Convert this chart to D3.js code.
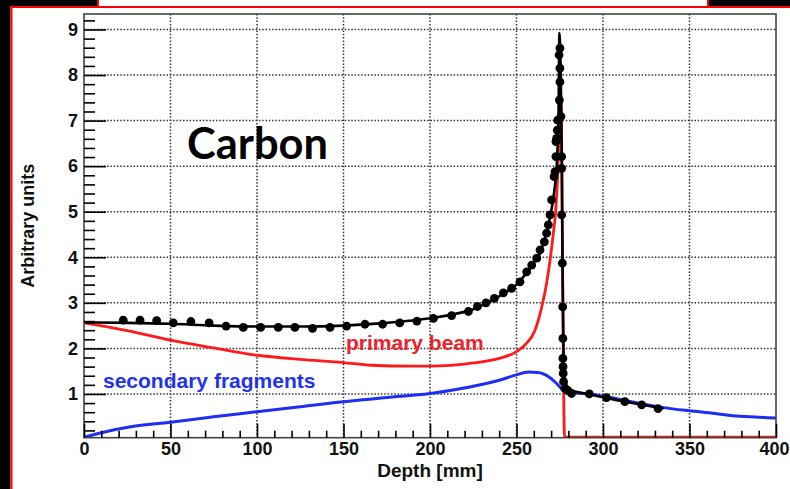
<!DOCTYPE html>
<html>
<head>
<meta charset="utf-8">
<script src="https://cdn.jsdelivr.net/npm/d3@7"></script>
<style>
  html, body { margin: 0; padding: 0; background: #fff; }
  svg { display: block; }
</style>
</head>
<body>
<svg id="chart" width="790" height="489"></svg>
<script>
// ---------------- DATA ----------------
const xTicks = [0, 50, 100, 150, 200, 250, 300, 350, 400];
const yTicks = [1, 2, 3, 4, 5, 6, 7, 8, 9];

// primary beam (red)
const primaryDepth = [0, 25, 50, 75, 100, 125, 150, 166, 190, 200, 225, 240, 250, 255, 260.7, 264.6, 267.4, 269.4, 271.3, 272.7, 273.8, 274.6, 275.3, 275.9, 276.4, 276.9, 277.4, 277.8, 400];
const primaryValue = [2.56, 2.39, 2.18, 2.01, 1.85, 1.76, 1.69, 1.63, 1.61, 1.61, 1.68, 1.78, 1.93, 2.08, 2.40, 2.91, 3.43, 3.94, 4.53, 5.04, 5.80, 6.80, 7.60, 7.30, 5.00, 2.50, 0.60, 0.05, 0.05];

// secondary fragments (blue)
const secondaryDepth = [0, 10, 27, 50, 75, 100, 125, 150, 175, 200, 215, 225, 240, 250, 257, 262, 265, 270, 274, 278, 285, 292, 300, 310, 320, 335, 350, 365, 375, 390, 400];
const secondaryValue = [0.05, 0.15, 0.28, 0.38, 0.50, 0.61, 0.72, 0.83, 0.92, 1.01, 1.10, 1.17, 1.30, 1.42, 1.48, 1.47, 1.45, 1.34, 1.20, 1.05, 1.02, 1.00, 0.95, 0.88, 0.80, 0.70, 0.63, 0.57, 0.52, 0.49, 0.47];

// total (black line)
const totalDepth = [0, 25, 50, 75, 100, 125, 150, 175, 200, 215, 225, 235, 245, 250, 255, 260, 264, 267, 270, 272, 273.5, 274.3, 274.8, 275.6, 276.2, 276.7, 277.2, 277.8, 279, 282, 290, 300, 310, 320, 335];
const totalValue = [2.57, 2.56, 2.54, 2.50, 2.48, 2.48, 2.50, 2.56, 2.66, 2.76, 2.86, 3.04, 3.26, 3.40, 3.62, 3.88, 4.12, 4.50, 5.00, 5.50, 6.20, 7.20, 8.92, 8.00, 6.00, 3.50, 1.80, 1.35, 1.18, 1.08, 1.01, 0.93, 0.85, 0.78, 0.68];

// measured points (black dots)
const dotDepth = [22.7, 32.4, 42, 51.6, 61.8, 72.3, 82.1, 92.1, 102.1, 112.3, 121.9, 132.1, 142.2, 151.8, 162.4, 172.6, 182.5, 192.4, 202, 212.5, 222.2, 227.4, 232.4, 237.2, 242.4, 247.2, 252, 255.9, 258.8, 261.7, 263.6, 266.1, 267.4, 268.4, 269.4, 270.3, 271.7, 272.3, 272.8, 272.8, 273.2, 273.6, 273.8, 274.8, 275.1, 275.1, 274.6, 275.1, 275.7, 276.1, 276.1, 276.1, 276.5, 276.7, 276.8, 276.8, 276.9, 277.0, 277.2, 278.0, 279.5, 281.8, 292.1, 302, 312.6, 322.4, 331.8];
const dotValue = [2.62, 2.62, 2.61, 2.56, 2.59, 2.56, 2.49, 2.46, 2.46, 2.46, 2.46, 2.44, 2.46, 2.49, 2.53, 2.53, 2.56, 2.60, 2.66, 2.72, 2.81, 2.92, 3.00, 3.10, 3.22, 3.32, 3.46, 3.68, 3.83, 3.98, 4.16, 4.34, 4.53, 4.71, 4.93, 5.26, 5.77, 5.88, 6.21, 6.54, 6.61, 6.79, 7.01, 7.45, 7.85, 8.15, 8.44, 8.59, 7.09, 6.21, 5.95, 4.93, 3.87, 2.91, 2.22, 1.78, 1.60, 1.45, 1.27, 1.12, 1.08, 1.01, 1.00, 0.92, 0.83, 0.76, 0.68];

const chartTitle = "Carbon";
const xTitle = "Depth [mm]";
const yTitle = "Arbitrary units";
const primaryLabel = "primary beam";
const secondaryLabel = "secondary fragments";

// ---------------- DRAW ----------------
const svg = d3.select("#chart");
const L = 84, R = 776, T = 14, B = 437.7;
const x = d3.scaleLinear().domain([0, 400]).range([L, R]);
const y = d3.scaleLinear().domain([0.04, 9.34]).range([B, T]);

// page decorations
svg.append("rect").attr("x", 0).attr("y", 0).attr("width", 790).attr("height", 489).attr("fill", "#fff");
svg.append("rect").attr("x", 0).attr("y", 0).attr("width", 10.5).attr("height", 489).attr("fill", "#000");
svg.append("rect").attr("x", 0).attr("y", 0).attr("width", 97).attr("height", 6).attr("fill", "#000");
svg.append("rect").attr("x", 709).attr("y", 0).attr("width", 81).attr("height", 6).attr("fill", "#000");
svg.append("line").attr("x1", 11.5).attr("x2", 11.5).attr("y1", 6).attr("y2", 489).attr("stroke", "#f00").attr("stroke-width", 2);
svg.append("line").attr("x1", 11).attr("x2", 790).attr("y1", 7).attr("y2", 7).attr("stroke", "#f00").attr("stroke-width", 2);
svg.append("line").attr("x1", 98).attr("x2", 98).attr("y1", 0).attr("y2", 7).attr("stroke", "#f00").attr("stroke-width", 2);
svg.append("line").attr("x1", 708).attr("x2", 708).attr("y1", 0).attr("y2", 7).attr("stroke", "#f00").attr("stroke-width", 2);

// grid
const grid = svg.append("g").attr("stroke", "#333").attr("stroke-width", 1.5).attr("stroke-dasharray", "1.5,1.8");
grid.selectAll("line.gx").data(xTicks.filter(d => d > 0 && d < 400)).enter().append("line")
  .attr("x1", d => x(d)).attr("x2", d => x(d)).attr("y1", T).attr("y2", B);
grid.selectAll("line.gy").data(yTicks).enter().append("line")
  .attr("y1", d => y(d)).attr("y2", d => y(d)).attr("x1", L).attr("x2", R);

// clip
svg.append("clipPath").attr("id", "clip").append("rect")
  .attr("x", L).attr("y", T - 2).attr("width", R - L).attr("height", B - T + 1.5);
const plot = svg.append("g").attr("clip-path", "url(#clip)");

const line = d3.line().x(d => x(d[0])).y(d => y(d[1])).curve(d3.curveMonotoneX);
const zip = (a, b) => a.map((v, i) => [v, b[i]]);

plot.append("path").datum(zip(secondaryDepth, secondaryValue)).attr("d", line)
  .attr("fill", "none").attr("stroke", "#1e2ef2").attr("stroke-width", 3).attr("stroke-linejoin", "round");
plot.append("path").datum(zip(primaryDepth, primaryValue)).attr("d", line)
  .attr("fill", "none").attr("stroke", "#ff1a1a").attr("stroke-width", 2.8).attr("stroke-linejoin", "round");
plot.append("path").datum(zip(totalDepth, totalValue)).attr("d", line)
  .attr("fill", "none").attr("stroke", "#000").attr("stroke-width", 2.6).attr("stroke-linejoin", "round");
plot.selectAll("circle").data(zip(dotDepth, dotValue)).enter().append("circle")
  .attr("cx", d => x(d[0])).attr("cy", d => y(d[1])).attr("r", 4.4).attr("fill", "#000");

// frame
svg.append("rect").attr("x", L).attr("y", T).attr("width", R - L).attr("height", B - T)
  .attr("fill", "none").attr("stroke", "#444").attr("stroke-width", 1.6);

// axes
const fontAxis = "'Liberation Sans', Arial, Helvetica, sans-serif";
const yMinor = d3.range(0.2, 9.3, 0.2).map(v => +v.toFixed(1)).filter(v => Math.abs(v - Math.round(v)) > 0.01);
const xMinor = d3.range(10, 400, 10).filter(v => v % 50 !== 0);

const yAxis = svg.append("g").attr("transform", `translate(${L},0)`)
  .call(d3.axisLeft(y).tickValues(yTicks).tickSize(-22).tickPadding(6).tickFormat(d3.format("d")));
const yAxisMinor = svg.append("g").attr("transform", `translate(${L},0)`)
  .call(d3.axisLeft(y).tickValues(yMinor).tickSize(-11).tickFormat(""));
const xAxis = svg.append("g").attr("transform", `translate(0,${B})`)
  .call(d3.axisBottom(x).tickValues(xTicks).tickSize(-14).tickPadding(5).tickFormat(d3.format("d")));
const xAxisMinor = svg.append("g").attr("transform", `translate(0,${B})`)
  .call(d3.axisBottom(x).tickValues(xMinor).tickSize(-7).tickFormat(""));

[yAxis, yAxisMinor, xAxis, xAxisMinor].forEach(g => {
  g.select(".domain").remove();
  g.selectAll(".tick line").attr("stroke", "#000").attr("stroke-width", 1.6);
  g.selectAll(".tick text").attr("font-family", fontAxis).attr("font-weight", "bold")
    .attr("font-size", 18).attr("fill", "#111");
});
// keep the last x label inside the page
xAxis.selectAll(".tick text").filter(d => d === 400).attr("text-anchor", "end").attr("x", 789 - x(400));

// axis titles
svg.append("text").attr("x", (L + R) / 2).attr("y", 477).attr("text-anchor", "middle")
  .attr("font-family", fontAxis).attr("font-weight", "bold").attr("font-size", 19).attr("fill", "#111").text(xTitle);
svg.append("text").attr("transform", `translate(34,${(T + B) / 2}) rotate(-90)`).attr("text-anchor", "middle")
  .attr("font-family", fontAxis).attr("font-weight", "bold").attr("font-size", 18).attr("fill", "#111").text(yTitle);

// labels
svg.append("text").attr("x", 346).attr("y", 350).attr("font-family", fontAxis).attr("font-weight", "bold")
  .attr("font-size", 21).attr("fill", "#f0202a").text(primaryLabel);
svg.append("text").attr("x", 103).attr("y", 388).attr("font-family", fontAxis).attr("font-weight", "bold")
  .attr("font-size", 21).attr("fill", "#2233ee").text(secondaryLabel);

const title = svg.append("text").attr("x", 187).attr("y", 159)
  .attr("font-family", "Lato, 'Open Sans', sans-serif").attr("font-weight", "bold")
  .attr("font-size", 40).attr("fill", "#000").text(chartTitle);
const w = title.node().getComputedTextLength();
if (w > 0) title.attr("font-size", 40 * 141 / w);
</script>
</body>
</html>
